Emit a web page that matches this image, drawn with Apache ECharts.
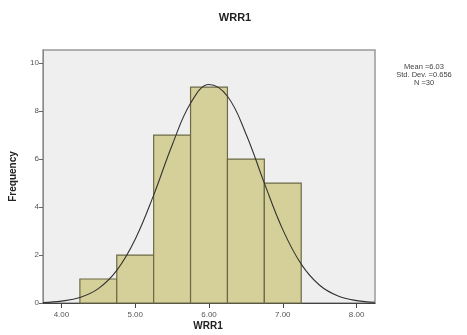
<!DOCTYPE html>
<html><head><meta charset="utf-8">
<script src="https://cdn.jsdelivr.net/npm/echarts@6/dist/echarts.min.js"></script>
<style>html,body{margin:0;padding:0;background:#fff}#c{width:467px;height:335px}</style>
</head><body><div id="c"></div>
<script>
var binStart = [4.25, 4.75, 5.25, 5.75, 6.25, 6.75];
var binEnd   = [4.75, 5.25, 5.75, 6.25, 6.75, 7.25];
var counts   = [1, 2, 7, 9, 6, 5];
var curveX = [3.75,4.0,4.25,4.5,4.75,5.0,5.25,5.5,5.75,6.0,6.25,6.5,6.75,7.0,7.25,7.5,7.75,8.0,8.25];
var curveY = [0.02,0.08,0.23,0.60,1.36,2.66,4.50,6.58,8.33,9.11,8.62,7.06,5.00,3.06,1.62,0.74,0.29,0.10,0.03];
var xTicks = [4, 5, 6, 7, 8];
var yTicks = [0, 2, 4, 6, 8, 10];
var statsLines = ['Mean =6.03', 'Std. Dev. =0.656', 'N =30'];
var xName = 'WRR1';

var bars = binStart.map(function(s, i){ return [s, binEnd[i], counts[i]]; });
var curve = curveX.map(function(x, i){ return [x, curveY[i]]; });

var chart = echarts.init(document.getElementById('c'), null, {renderer:'canvas'});
var lbl = {fontFamily:'Liberation Sans, Arial, sans-serif', fontSize:8, color:'#555'};
chart.setOption({
  animation:false,
  title:{text:'WRR1', left:230, top:7, textAlign:'center',
    textStyle:{fontFamily:'Liberation Sans, Arial, sans-serif', fontSize:11, fontWeight:'bold', color:'#222'}},
  graphic:[
    {type:'text', left:389, top:63,
      style:{text:statsLines.join('\n'), fontFamily:'Liberation Sans, Arial, sans-serif', fontSize:7.5, lineHeight:8, fill:'#444', align:'center', textAlign:'center', width:70}},
    {type:'text', x:208, y:326,
      style:{text:xName, fontFamily:'Liberation Sans, Arial, sans-serif', fontSize:10, fontWeight:'bold', fill:'#222', align:'center', verticalAlign:'middle'}}
  ],
  grid:{left:40, right:92, top:50, bottom:32, show:true, backgroundColor:'#efefef', borderColor:'#9a9a9a', borderWidth:1.5},
  xAxis:{type:'value', min:3.75, max:8.25, interval:0.25,
    axisLine:{show:true, onZero:false, lineStyle:{color:'#444', width:1.2}},
    axisTick:{show:true, length:5, lineStyle:{color:'#444'}, interval:0,
      customValues: xTicks},
    axisLabel:{customValues: xTicks, formatter:function(v){return v.toFixed(2);}, margin:8,
      fontFamily:lbl.fontFamily, fontSize:lbl.fontSize, color:lbl.color},
    splitLine:{show:false}},
  yAxis:{type:'value', min:0, max:10.55, interval:2,
    name:'Frequency', nameLocation:'middle', nameGap:25, nameRotate:90,
    nameTextStyle:{fontFamily:'Liberation Sans, Arial, sans-serif', fontSize:10, fontWeight:'bold', color:'#222'},
    axisLine:{show:true, lineStyle:{color:'#888', width:1}},
    axisTick:{show:true, length:4, lineStyle:{color:'#666'}, customValues: yTicks},
    axisLabel:{customValues: yTicks, margin:4, fontFamily:lbl.fontFamily, fontSize:lbl.fontSize, color:lbl.color},
    splitLine:{show:false}},
  series:[
    {type:'custom', data:bars, encode:{x:[0,1], y:2},
      renderItem:function(params, api){
        var p0 = api.coord([api.value(0), api.value(2)]);
        var p1 = api.coord([api.value(1), 0]);
        return {type:'rect', shape:{x:p0[0], y:p0[1], width:p1[0]-p0[0], height:p1[1]-p0[1]},
          style:{fill:'#d5d09a', stroke:'#6b6a45', lineWidth:1.2}};
      }, z:2},
    {type:'line', data:curve, smooth:0.4, symbol:'none', lineStyle:{color:'#333', width:1.1}, z:3}
  ]
});
</script></body></html>
